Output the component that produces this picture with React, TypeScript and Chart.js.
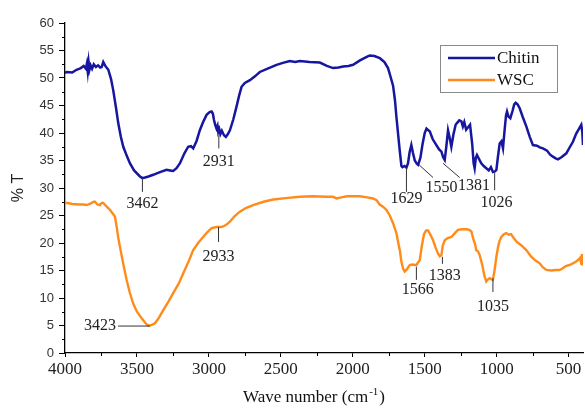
import React, { useEffect, useRef } from "react";
import { Chart, registerables } from "chart.js";

Chart.register(...registerables);

// ---------- data ----------
const seriesNames = ["Chitin", "WSC"];

const chitinWave = [
  4000, 3988, 3950, 3920, 3890, 3870, 3855, 3848, 3842, 3836, 3830, 3822, 3812, 3800, 3785, 3770, 3755, 3745,
  3734, 3720, 3699, 3680, 3665, 3645, 3630, 3612, 3595, 3570, 3549, 3520, 3479, 3462, 3444, 3420, 3387, 3340,
  3294, 3270, 3248, 3225, 3201, 3170, 3144, 3125, 3109, 3085, 3063, 3040, 3016, 2995, 2981, 2972, 2965, 2955,
  2947, 2940, 2935, 2928, 2920, 2910, 2895, 2882, 2868, 2854, 2830, 2808, 2790, 2773, 2750, 2715, 2680, 2646,
  2600, 2530, 2480, 2438, 2400, 2368, 2300, 2229, 2180, 2137, 2100, 2067, 2030, 1998, 1950, 1900, 1882, 1850,
  1812, 1780, 1755, 1735, 1720, 1707, 1697, 1685, 1674, 1662, 1655, 1640, 1627, 1616, 1605, 1593, 1582, 1569,
  1555, 1546, 1530, 1515, 1500, 1488, 1475, 1465, 1445, 1419, 1400, 1384, 1372, 1361, 1350, 1338, 1327, 1315,
  1300, 1285, 1276, 1260, 1245, 1235, 1225, 1212, 1200, 1185, 1170, 1160, 1153, 1145, 1137, 1125, 1107, 1090,
  1072, 1055, 1040, 1026, 1012, 1002, 992, 979, 967, 956, 945, 935, 928, 918, 905, 890, 878, 868, 855, 840,
  820, 794, 770, 748, 720, 700, 679, 650, 630, 609, 590, 574, 550, 516, 490, 470, 447, 425, 412, 405, 400,
];
const chitinT = [
  50.9, 51.1, 51.0, 51.5, 51.8, 52.2, 51.7, 52.6, 51.2, 52.9, 51.5, 52.3, 51.7, 52.5, 52.0, 52.3, 51.9, 52.0,
  52.9, 52.2, 51.5, 49.8, 47.8, 44.5, 41.8, 39.3, 37.5, 35.8, 34.5, 33.2, 32.1, 31.8, 31.9, 32.1, 32.4, 32.9,
  33.3, 33.2, 33.1, 33.6, 34.5, 36.3, 37.5, 37.6, 37.2, 38.6, 40.5, 42.0, 43.3, 43.8, 43.9, 43.5, 42.4, 41.4,
  40.8, 41.3, 40.2, 40.7, 39.8, 40.4, 39.6, 39.3, 39.8, 40.5, 42.5, 44.8, 46.8, 48.4, 49.1, 49.6, 50.3, 51.1,
  51.6, 52.4, 52.8, 53.1, 52.9, 53.1, 52.9, 52.8, 52.2, 51.8, 51.9, 52.1, 52.2, 52.4, 53.2, 53.9, 54.1, 54.0,
  53.6, 52.9, 51.8, 50.0, 48.6, 46.0, 43.0, 39.8, 36.9, 34.0, 33.8, 34.0, 33.7, 34.5, 36.5, 37.8, 36.4, 35.0,
  34.4, 34.2, 35.5, 38.0, 40.0, 40.8, 40.5, 40.3, 38.9, 37.8, 37.0, 36.6, 35.6, 35.1, 37.5, 40.5, 39.2, 37.5,
  39.8, 41.5, 41.8, 42.3, 42.1, 41.2, 42.0, 40.6, 41.0, 41.5, 38.0, 34.5, 33.6, 35.5, 36.0, 35.4, 34.5, 34.0,
  33.6, 33.2, 33.8, 32.9, 33.0, 33.3, 35.5, 38.1, 38.5, 37.2, 40.5, 43.2, 43.9, 43.0, 42.7, 44.0, 45.2, 45.5, 45.2, 44.5,
  43.0, 41.2, 39.3, 37.8, 37.7, 37.4, 37.2, 36.8, 36.1, 35.7, 35.4, 35.2, 35.6, 36.3, 37.5, 38.4, 39.9, 40.9, 41.5, 40.2, 37.8,
];

const wscWave = [
  4000, 3988, 3950, 3900, 3870, 3849, 3820, 3800, 3792, 3775, 3757, 3745, 3734, 3710, 3687, 3670, 3653, 3640,
  3630, 3618, 3595, 3572, 3550, 3526, 3500, 3467, 3440, 3423, 3410, 3390, 3375, 3350, 3317, 3280, 3248, 3210,
  3178, 3140, 3109, 3075, 3040, 3010, 2981, 2947, 2933, 2915, 2901, 2880, 2854, 2820, 2785, 2740, 2692, 2620,
  2553, 2450, 2368, 2280, 2183, 2137, 2113, 2080, 2040, 1998, 1951, 1900, 1860, 1835, 1813, 1790, 1766, 1743,
  1720, 1697, 1685, 1672, 1662, 1650, 1639, 1625, 1604, 1585, 1566, 1558, 1548, 1535, 1520, 1505, 1490, 1477,
  1460, 1442, 1425, 1408, 1395, 1384, 1375, 1361, 1340, 1315, 1290, 1269, 1240, 1211, 1190, 1176, 1160, 1150,
  1142, 1130, 1118, 1100, 1085, 1072, 1060, 1049, 1035, 1026, 1015, 1002, 990, 980, 967, 950, 933, 915, 900,
  887, 860, 830, 794, 760, 730, 701, 680, 655, 620, 590, 563, 540, 520, 493, 470, 450, 435, 420, 412, 408, 404, 400,
];
const wscT = [
  27.2, 27.3, 27.1, 27.0, 27.0, 26.9, 27.2, 27.5, 27.5, 27.0, 26.9, 27.3, 27.3, 26.6, 26.0, 25.4, 24.8, 22.8,
  21.0, 19.3, 16.2, 13.3, 11.0, 9.0, 7.5, 6.3, 5.4, 5.0, 5.0, 5.2, 5.4, 6.3, 7.8, 9.4, 10.9, 12.6,
  14.5, 16.7, 18.7, 20.0, 21.1, 22.0, 22.7, 22.9, 22.9, 22.9, 23.0, 23.3, 23.9, 24.9, 25.7, 26.4, 26.9, 27.5,
  27.9, 28.2, 28.4, 28.5, 28.4, 28.4, 28.1, 28.3, 28.5, 28.5, 28.5, 28.3, 28.1, 27.8, 27.0, 26.6, 26.0, 25.0,
  23.6, 21.8, 20.2, 18.5, 16.6, 15.3, 14.8, 15.2, 16.0, 16.1, 16.0, 16.0, 16.4, 16.8, 19.5, 21.6, 22.3, 22.3,
  21.5, 20.5, 19.2, 18.1, 17.6, 17.8, 19.5, 20.5, 20.9, 21.1, 21.8, 22.4, 22.5, 22.5, 22.4, 22.1, 20.5, 19.8,
  18.7, 18.5, 17.8, 16.0, 14.0, 13.0, 13.4, 13.6, 13.4, 13.3, 15.0, 17.5, 19.3, 20.4, 21.1, 21.6, 21.8, 21.5, 21.6,
  21.1, 20.2, 19.6, 18.7, 17.5, 16.8, 16.3, 15.6, 15.1, 15.0, 15.1, 15.1, 15.4, 15.8, 16.0, 16.3, 16.6, 16.9, 17.3, 16.2, 18.0, 15.9, 17.2,
];

const xMajorTicks = [4000, 3500, 3000, 2500, 2000, 1500, 1000, 500];
const xMinorTicks = [3750, 3250, 2750, 2250, 1750, 1250, 750];
const yMinorTicks = [2.5, 7.5, 12.5, 17.5, 22.5, 27.5, 32.5, 37.5, 42.5, 47.5, 52.5, 57.5];

const peakLabels = ["3462", "2931", "1629", "1550", "1381", "1026", "3423", "2933", "1566", "1383", "1035"];

// ---------- annotation placement (data coordinates) ----------
const peakLayout = [
  { line: [3462, 31.6, 3462, 29.3], text: [3462, 27.1], align: "center" },
  { line: [2931, 39.6, 2931, 37.2], text: [2931, 34.7], align: "center" },
  { line: [1627, 33.7, 1627, 29.3], text: [1627, 28.1], align: "center" },
  { line: [1539, 34.2, 1442, 31.9], text: [1384, 30.1], align: "center" },
  { line: [1373, 34.5, 1257, 31.9], text: [1158, 30.4], align: "center" },
  { line: [1014, 32.7, 1014, 29.6], text: [1002, 27.3], align: "center" },
  { line: [3632, 4.9, 3410, 4.9], text: [3646, 4.9], align: "right" },
  { line: [2933, 22.9, 2933, 20.2], text: [2933, 17.5], align: "center" },
  { line: [1558, 15.7, 1558, 13.3], text: [1549, 11.5], align: "center" },
  { line: [1377, 17.5, 1377, 16.2], text: [1361, 14.0], align: "center" },
  { line: [1026, 13.6, 1026, 11.1], text: [1026, 8.4], align: "center" },
];

const COLORS = ["#1616A0", "#FF8C1A"];
const SERIF = "'Liberation Serif', 'Times New Roman', serif";
const SANS = "'Liberation Sans', Arial, sans-serif";

const overlayPlugin = {
  id: "overlay",
  afterDraw(chart: any) {
    const { ctx, scales } = chart;
    const x = scales.x;
    const y = scales.y;
    const area = chart.chartArea;
    ctx.save();
    // minor ticks
    ctx.strokeStyle = "#000";
    ctx.lineWidth = 1;
    xMinorTicks.forEach((v) => {
      const px = Math.round(x.getPixelForValue(v)) + 0.5;
      ctx.beginPath();
      ctx.moveTo(px, area.bottom);
      ctx.lineTo(px, area.bottom + 3);
      ctx.stroke();
    });
    yMinorTicks.forEach((v) => {
      const py = Math.round(y.getPixelForValue(v)) + 0.5;
      ctx.beginPath();
      ctx.moveTo(area.left, py);
      ctx.lineTo(area.left - 3, py);
      ctx.stroke();
    });

    // peak annotations
    ctx.font = `16px ${SERIF}`;
    ctx.fillStyle = "#222";
    ctx.strokeStyle = "#333";
    ctx.lineWidth = 1;
    ctx.textBaseline = "middle";
    peakLabels.forEach((lab, i) => {
      const L = peakLayout[i];
      ctx.beginPath();
      ctx.moveTo(x.getPixelForValue(L.line[0]), y.getPixelForValue(L.line[1]));
      ctx.lineTo(x.getPixelForValue(L.line[2]), y.getPixelForValue(L.line[3]));
      ctx.stroke();
      ctx.textAlign = L.align as CanvasTextAlign;
      ctx.fillText(lab, x.getPixelForValue(L.text[0]), y.getPixelForValue(L.text[1]));
    });

    // legend
    const bx = 440, by = 45, bw = 117, bh = 47;
    ctx.strokeStyle = "#8a8a8a";
    ctx.lineWidth = 1;
    ctx.strokeRect(bx + 0.5, by + 0.5, bw, bh);
    ctx.font = `17px ${SERIF}`;
    ctx.textAlign = "left";
    seriesNames.forEach((name, i) => {
      const ly = by + 13 + i * 22;
      ctx.strokeStyle = COLORS[i];
      ctx.lineWidth = 2.5;
      ctx.beginPath();
      ctx.moveTo(bx + 8, ly);
      ctx.lineTo(bx + 55, ly);
      ctx.stroke();
      ctx.fillStyle = "#111";
      ctx.fillText(name, bx + 57, ly + 1);
    });

    // x title with superscript
    const cx = (area.left + area.right) / 2 - 10;
    const ty = 398;
    ctx.fillStyle = "#111";
    ctx.font = `17px ${SERIF}`;
    const p1 = "Wave number (cm";
    const p3 = ")";
    const w1 = ctx.measureText(p1).width;
    const w3 = ctx.measureText(p3).width;
    ctx.font = `11px ${SERIF}`;
    const p2 = "-1";
    const w2 = ctx.measureText(p2).width + 2;
    const start = cx - (w1 + w2 + w3) / 2;
    ctx.textAlign = "left";
    ctx.font = `17px ${SERIF}`;
    ctx.fillText(p1, start, ty);
    ctx.fillText(p3, start + w1 + w2, ty);
    ctx.font = `11px ${SERIF}`;
    ctx.fillText(p2, start + w1 + 1, ty - 6);

    // y title
    ctx.save();
    ctx.translate(19, 188);
    ctx.rotate(-Math.PI / 2);
    ctx.font = `16px ${SANS}`;
    ctx.textAlign = "center";
    ctx.fillStyle = "#222";
    ctx.fillText("% T", 0, 0);
    ctx.restore();

    ctx.restore();
  },
};

export default function App() {
  const ref = useRef<HTMLCanvasElement | null>(null);
  useEffect(() => {
    if (!ref.current) return;
    const chart = new Chart(ref.current, {
      type: "line",
      data: {
        datasets: [
          {
            label: seriesNames[0],
            data: chitinWave.map((w, i) => ({ x: w, y: chitinT[i] })),
            borderColor: COLORS[0],
            borderWidth: 2.5,
            pointRadius: 0,
            tension: 0,
          },
          {
            label: seriesNames[1],
            data: wscWave.map((w, i) => ({ x: w, y: wscT[i] })),
            borderColor: COLORS[1],
            borderWidth: 2.4,
            pointRadius: 0,
            tension: 0,
          },
        ],
      },
      options: {
        animation: false,
        responsive: false,
        layout: { padding: { left: 0, top: 23, right: 2, bottom: 0 } },
        plugins: { legend: { display: false }, tooltip: { enabled: false } },
        scales: {
          x: {
            type: "linear",
            reverse: true,
            min: 400,
            max: 4000,
            afterBuildTicks: (s: any) => {
              s.ticks = xMajorTicks.map((v) => ({ value: v }));
            },
            afterFit: (s: any) => {
              s.height = 56;
            },
            grid: { drawOnChartArea: false, drawTicks: true, tickLength: 4, color: "#000" },
            border: { color: "#000", width: 1.3 },
            ticks: {
              font: { family: SERIF, size: 17 },
              color: "#222",
              padding: 2,
              maxRotation: 0,
              autoSkip: false,
              callback: (v: any) => String(v),
            },
          },
          y: {
            min: 0,
            max: 60,
            afterFit: (s: any) => {
              s.width = 65;
            },
            grid: { drawOnChartArea: false, drawTicks: true, tickLength: 6, color: "#000" },
            border: { color: "#000", width: 1.3 },
            ticks: {
              stepSize: 5,
              font: { family: SANS, size: 13 },
              color: "#333",
              padding: 5,
              callback: (v: any) => String(v),
            },
          },
        },
      },
      plugins: [overlayPlugin],
    });
    return () => chart.destroy();
  }, []);
  return (
    <div style={{ position: "absolute", left: 0, top: 0, width: 585, height: 409, background: "#fff" }}>
      <canvas ref={ref} width={585} height={409} />
    </div>
  );
}
